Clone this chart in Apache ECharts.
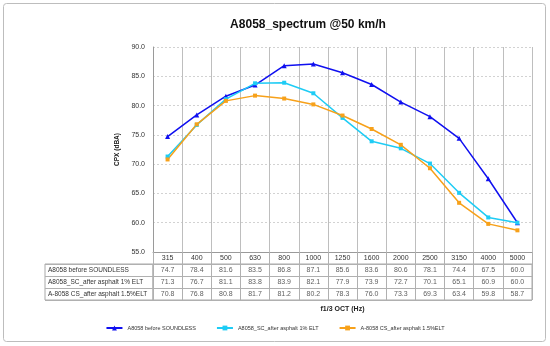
<!DOCTYPE html>
<html>
<head>
<meta charset="utf-8">
<script src="https://cdn.jsdelivr.net/npm/echarts@6/dist/echarts.min.js"></script>
<style>
html,body{margin:0;padding:0;background:#fff;}
#c{width:550px;height:346px;}
</style>
</head>
<body>
<div id="c"></div>
<script>
var categories = ['315','400','500','630','800','1000','1250','1600','2000','2500','3150','4000','5000'];
var seriesNames = ['A8058 before SOUNDLESS','A8058_SC_after asphalt 1% ELT','A-8058 CS_after asphalt 1.5%ELT'];
var before = [74.7,78.4,81.6,83.5,86.8,87.1,85.6,83.6,80.6,78.1,74.4,67.5,60.0];
var sc1 = [71.3,76.7,81.1,83.8,83.9,82.1,77.9,73.9,72.7,70.1,65.1,60.9,60.0];
var cs15 = [70.8,76.8,80.8,81.7,81.2,80.2,78.3,76.0,73.3,69.3,63.4,59.8,58.7];
var yTicks = [55,60,65,70,75,80,85,90];

var colors = ['#1010F0','#1ECCF5','#F7A11A'];
var symbols = ['triangle','rect','rect'];
var allVals = [before, sc1, cs15];
var F = 'Liberation Sans, Arial, sans-serif';

var tableData = [];
allVals.forEach(function(arr, r){
  arr.forEach(function(v, i){ tableData.push([i, r, v]); });
});

var chart = echarts.init(document.getElementById('c'), null, {renderer:'canvas'});
var lineSeries = allVals.map(function(arr, k){
  return {
    name: seriesNames[k], type:'line', data: arr,
    xAxisIndex:0, yAxisIndex:0,
    symbol: symbols[k], symbolSize: k===0?5:4,
    lineStyle:{color:colors[k], width:1.5},
    itemStyle:{color:colors[k]},
    animation:false
  };
});

chart.setOption({
  animation:false,
  title:{text:'A8058_spectrum @50 km/h', left:303, top:14, textAlign:'center',
    textStyle:{fontFamily:F, fontSize:12, fontWeight:'bold', color:'#111'}},
  legend:{
    data: seriesNames, bottom:10, left:'center', itemGap:20,
    itemWidth:16, itemHeight:6,
    textStyle:{fontFamily:F, fontSize:5.5, color:'#333'}
  },
  graphic:[{type:'rect', shape:{x:3.5,y:3.5,width:542,height:338,r:3}, style:{fill:'none', stroke:'#BDBDBD', lineWidth:1}, silent:true}],
  grid:[
    {left:153, right:18, top:47, height:205, show:false},
    {left:153, right:18, top:264, height:36, show:true, borderColor:'#A8A8A8', borderWidth:1, backgroundColor:'transparent'},
    {left:45, width:108, top:264, height:36, show:true, borderColor:'#A8A8A8', borderWidth:1, backgroundColor:'transparent'}
  ],
  xAxis:[
    {type:'category', gridIndex:0, data:categories, boundaryGap:true,
     axisLine:{show:true, lineStyle:{color:'#9A9A9A'}},
     axisTick:{show:true, length:12, interval:0, lineStyle:{color:'#B0B0B0'}},
     axisLabel:{margin:3, interval:0, fontFamily:F, fontSize:7, color:'#333'},
     splitLine:{show:true, interval:0, lineStyle:{color:'#BEBEBE', width:1}},
     name:'f1/3 OCT (Hz)', nameLocation:'middle', nameGap:54,
     nameTextStyle:{fontFamily:F, fontSize:7, fontWeight:'bold', color:'#222'}},
    {type:'category', gridIndex:1, data:categories, boundaryGap:true,
     axisLine:{show:false}, axisTick:{show:false}, axisLabel:{show:false},
     splitLine:{show:true, interval:0, lineStyle:{color:'#B0B0B0'}}},
    {type:'value', gridIndex:2, show:false, min:0, max:1}
  ],
  yAxis:[
    {type:'value', gridIndex:0, min:55, max:90, interval:5,
     axisLine:{show:true, lineStyle:{color:'#9A9A9A'}}, axisTick:{show:false},
     axisLabel:{margin:8, fontFamily:F, fontSize:7, color:'#333',
       formatter:function(v){return v.toFixed(1);}},
     splitLine:{show:true, lineStyle:{color:'#D2D2D2', type:[2,2]}},
     name:'CPX (dBA)', nameLocation:'middle', nameGap:27, nameRotate:90,
     nameTextStyle:{fontFamily:F, fontSize:6.5, fontWeight:'bold', color:'#222'}},
    {type:'category', gridIndex:1, data:[0,1,2], inverse:true, boundaryGap:true,
     axisLine:{show:false}, axisTick:{show:false}, axisLabel:{show:false},
     splitLine:{show:true, interval:0, lineStyle:{color:'#B0B0B0'}}},
    {type:'category', gridIndex:2, data:seriesNames, inverse:true, boundaryGap:true,
     axisLine:{show:false}, axisTick:{show:false},
     axisLabel:{inside:true, margin:3, align:'left', interval:0, fontFamily:F, fontSize:6.5, color:'#333'},
     splitLine:{show:true, interval:0, lineStyle:{color:'#B0B0B0'}}}
  ],
  series: lineSeries.concat([{
    type:'scatter', xAxisIndex:1, yAxisIndex:1, data:tableData,
    symbolSize:1, itemStyle:{color:'rgba(0,0,0,0)'}, silent:true,
    label:{show:true, position:'inside', fontFamily:F, fontSize:7, color:'#333',
      formatter:function(p){return p.data[2].toFixed(1);}}
  }])
});
</script>
</body>
</html>
